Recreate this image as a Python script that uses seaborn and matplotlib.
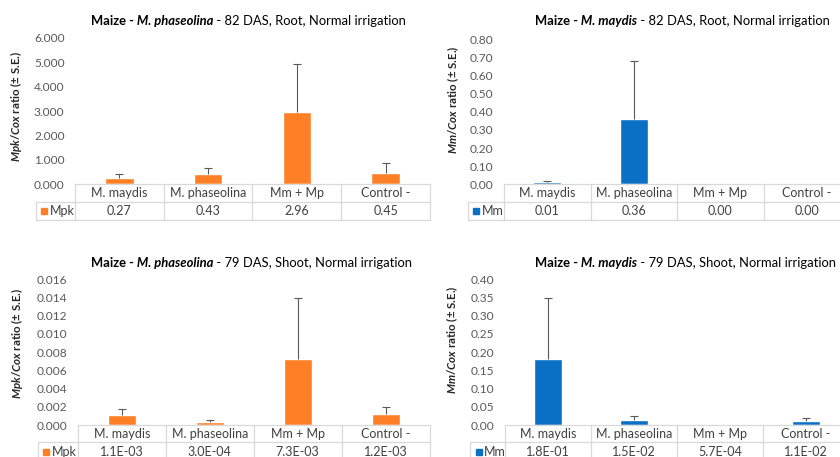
import numpy as np
import pandas as pd
import matplotlib
matplotlib.use("Agg")
import matplotlib.pyplot as plt
from matplotlib.ticker import FormatStrFormatter
import seaborn as sns

# ---------------- data ----------------
categories = ["M. maydis", "M. phaseolina", "Mm + Mp", "Control -"]

root_mpk = [0.27, 0.43, 2.96, 0.45]
root_mpk_se = [0.15, 0.22, 1.96, 0.41]

root_mm = [0.01, 0.36, 0.00, 0.00]
root_mm_se = [0.008, 0.32, 0.0, 0.0]

shoot_mpk = [1.1e-3, 3.0e-4, 7.3e-3, 1.2e-3]
shoot_mpk_se = [0.0007, 0.00022, 0.0067, 0.0008]

shoot_mm = [1.8e-1, 1.5e-2, 5.7e-4, 1.1e-2]
shoot_mm_se = [0.17, 0.011, 0.0, 0.009]

ORANGE = "#FF7F27"
BLUE = "#0A70C6"

sns.set_style("white")
plt.rcParams["font.family"] = ["Lato", "DejaVu Sans"]
plt.rcParams["mathtext.fontset"] = "custom"
plt.rcParams["mathtext.rm"] = "Lato:bold"
plt.rcParams["mathtext.it"] = "Lato:italic:bold"
plt.rcParams["mathtext.bf"] = "Lato:bold"

W, H = 840, 457
fig = plt.figure(figsize=(8.4, 4.57), dpi=100)


def rect(l, t, r, b):
    return [l / W, 1 - b / H, (r - l) / W, (b - t) / H]


panels = [
    dict(box=(75, 37.7, 430, 184.3), vals=root_mpk, se=root_mpk_se, color=ORANGE,
         series="Mpk", ymax=6.0, step=1.0, tickfmt="%.3f", valfmt="%.2f", lab=39.3,
         title=("Maize -", " M. phaseolina", " - 82 DAS, Root, Normal irrigation"),
         tpos=(91, 21), ylab=r"$\mathit{Mpk/Cox}$ ratio (± S.E.)", ypos=(16, 106)),
    dict(box=(504, 39.3, 850, 184.3), vals=root_mm, se=root_mm_se, color=BLUE,
         series="Mm", ymax=0.80, step=0.10, tickfmt="%.2f", valfmt="%.2f", lab=36.3,
         title=("Maize -", " M. maydis", " - 82 DAS, Root, Normal irrigation"),
         tpos=(535, 21), ylab=r"$\mathit{Mm/Cox}$ ratio (± S.E.)", ypos=(453, 100)),
    dict(box=(77.7, 279.3, 429.7, 425), vals=shoot_mpk, se=shoot_mpk_se, color=ORANGE,
         series="Mpk", ymax=0.016, step=0.002, tickfmt="%.3f", valfmt="%.1E", lab=40,
         title=("Maize -", " M. phaseolina", " - 79 DAS, Shoot, Normal irrigation"),
         tpos=(91, 262.7), ylab=r"$\mathit{Mpk/Cox}$ ratio (± S.E.)", ypos=(17, 343.5)),
    dict(box=(505, 279.3, 849, 425), vals=shoot_mm, se=shoot_mm_se, color=BLUE,
         series="Mm", ymax=0.40, step=0.05, tickfmt="%.2f", valfmt="%.1E", lab=35,
         title=("Maize -", " M. maydis", " - 79 DAS, Shoot, Normal irrigation"),
         tpos=(535, 262.7), ylab=r"$\mathit{Mm/Cox}$ ratio (± S.E.)", ypos=(452, 340)),
]

GRID = "#D9D9D9"
TXT = "#404040"
ERR = "#595959"
TFS = 9.4   # title font size
FS = 9      # table font size

for p in panels:
    l, t, r, b = p["box"]
    wpx, hpx = r - l, b - t
    ax = fig.add_axes(rect(*p["box"]))
    df = pd.DataFrame({"cat": categories, "val": p["vals"]})
    sns.barplot(data=df, x="cat", y="val", order=categories, color=p["color"],
                saturation=1, width=0.32, ax=ax, errorbar=None)
    vals = np.array(p["vals"])
    se = np.array(p["se"])
    idx = np.where(se > 0)[0]
    ax.vlines(idx, vals[idx], vals[idx] + se[idx], color=ERR, lw=0.8)
    ax.plot(idx, vals[idx] + se[idx], ls="none", marker="_", ms=5.5, mew=0.8, color=ERR)

    ax.set_xlim(-0.5, 3.5)
    ax.set_ylim(0, p["ymax"])
    ax.set_yticks(np.arange(0, p["ymax"] + p["step"] / 2, p["step"]))
    ax.yaxis.set_major_formatter(FormatStrFormatter(p["tickfmt"]))
    ax.tick_params(axis="y", length=0, pad=7.5, labelsize=8.6, labelcolor=ERR)
    ax.set_xticks([])
    ax.set_xlabel("")
    ax.set_ylabel("")
    for s in ax.spines.values():
        s.set_visible(False)

    # data table under the axis
    r1 = 17.4 / hpx
    r2 = 18.6 / hpx
    lab = p["lab"] / wpx
    kw = dict(transform=ax.transAxes, clip_on=False, color=GRID, lw=0.9)
    ax.plot([0, 1], [0, 0], **kw)
    ax.plot([-lab, 1], [-r1, -r1], **kw)
    ax.plot([-lab, 1], [-r1 - r2, -r1 - r2], **kw)
    for xv in [0, 0.25, 0.5, 0.75, 1]:
        ax.plot([xv, xv], [0, -r1 - r2], **kw)
    ax.plot([-lab, -lab], [-r1, -r1 - r2], **kw)
    for i, c in enumerate(categories):
        ax.text((i + 0.5) / 4, -r1 / 2, c, transform=ax.transAxes, ha="center",
                va="center", fontsize=FS, color=TXT)
        ax.text((i + 0.5) / 4, -r1 - r2 / 2, p["valfmt"] % p["vals"][i],
                transform=ax.transAxes, ha="center", va="center", fontsize=FS, color=TXT)
    ax.plot([-lab + 8.5 / wpx], [-r1 - r2 / 2], marker="s", ms=4.3, color=p["color"],
            transform=ax.transAxes, clip_on=False, ls="none")
    ax.text(-lab + 14 / wpx, -r1 - r2 / 2, p["series"], transform=ax.transAxes,
            ha="left", va="center", fontsize=FS, color=TXT)

    # title in three styled pieces
    tx, ty = p["tpos"]
    t1 = ax.annotate(p["title"][0], xy=(tx / W, 1 - ty / H), xycoords="figure fraction",
                     ha="left", va="center", fontsize=TFS, fontweight="bold",
                     color="black", annotation_clip=False)
    t2 = ax.annotate(p["title"][1], xy=(1, 0), xycoords=t1, ha="left", va="bottom",
                     fontsize=TFS, fontweight="bold", fontstyle="italic", color="black",
                     annotation_clip=False)
    ax.annotate(p["title"][2], xy=(1, 0), xycoords=t2, ha="left", va="bottom",
                fontsize=TFS, color="black", annotation_clip=False)

    yx, yy = p["ypos"]
    fig.text(yx / W, 1 - yy / H, p["ylab"], rotation=90, ha="center", va="center",
             fontsize=8.3, fontweight="bold", color="#262626")

fig.savefig("out.png", dpi=100)
